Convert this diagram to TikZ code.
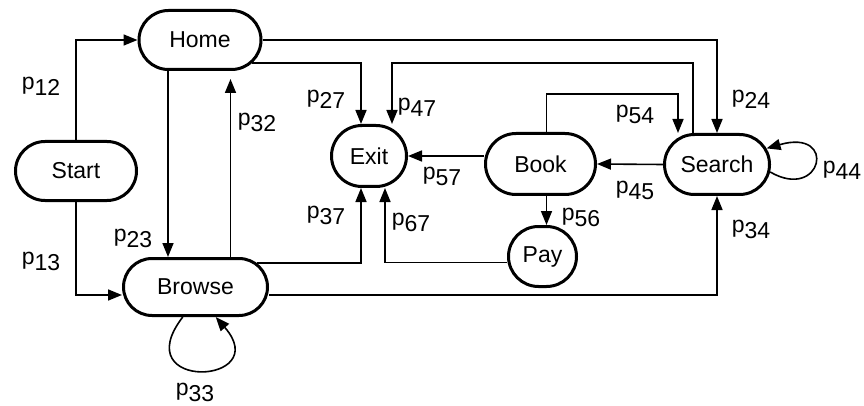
\documentclass[tikz,border=0pt]{standalone}
\usepackage{fontspec}
\setmainfont{Liberation Sans}
\usetikzlibrary{arrows.meta,shapes.misc}
\newcommand{\plab}[1]{p\raisebox{-6pt}{#1}}

\begin{document}
\begin{tikzpicture}[x=1pt,y=-1pt,line width=1.5pt,
  state/.style={draw,rounded rectangle,line width=3pt,inner sep=0pt,font=\fontsize{23}{27}\selectfont},
  plabel/.style={anchor=center,inner sep=0pt,font=\fontsize{23}{27}\selectfont},
  flow/.style={-{Triangle[length=14pt,width=11pt]},line width=1.6pt}]
\path[use as bounding box] (0,0) rectangle (864,406);
% states
\node[state,minimum width=121pt,minimum height=59pt] (start) at (76,171) {Start};
\node[state,minimum width=122pt,minimum height=59pt] (home) at (200,40) {Home};
\node[state,minimum width=144pt,minimum height=57pt] (browse) at (195.5,287) {Browse};
\node[state,minimum width=75pt,minimum height=61pt] (exit) at (369,156) {Exit};
\node[state,minimum width=110pt,minimum height=61pt] (book) at (540.5,164) {Book};
\node[state,minimum width=105pt,minimum height=60pt] (search) at (717,164.5) {Search};
\node[state,minimum width=68pt,minimum height=60pt] (pay) at (542.5,256.5) {Pay};
% transitions
\draw[flow] (start.north) |- (home.west);
\draw[flow] (start.south) |- ([yshift=-8pt]browse.west);
\draw[flow] ([xshift=-32pt]home.south) -- ([xshift=-32pt]home.south |- browse.north);
\draw[flow,shorten >=8pt] ([xshift=35pt]browse.north) -- ([xshift=35pt]browse.north |- home.south);
\draw[flow] (home.-24) -| ([xshift=-8pt]exit.north);
\draw[flow] (home.east) -| (search.north);
\draw[flow] ([xshift=-24pt]search.north) -- ++(0,-70) -| ([xshift=23pt]exit.north);
\draw[flow] ([xshift=6pt]book.north) -- ++(0,-38) -| ([xshift=-39pt]search.north);
\draw[flow] (exit.east -| book.west) -- (exit.east);
\draw[flow] (search.west) -- (book.east);
\draw[flow] ([xshift=6pt]book.south) -- ([xshift=6pt]book.south |- pay.north);
\draw[flow] ([yshift=-6pt]pay.west) -| ([xshift=16pt]exit.south);
\draw[flow] (browse.21) -| ([xshift=-8pt]exit.south);
\draw[flow] ([yshift=-8pt]browse.east) -| (search.south);
\draw[flow] (search.-8) .. controls (822,202) and (838,128) .. (search.18);
\draw[flow] (browse.-113) .. controls (125,392) and (275,385) .. (browse.-56);
% probabilities
\node[plabel] (p12) at (41,86) {\plab{12}};
\node[plabel] (p13) at (41,261) {\plab{13}};
\node[plabel] (p23) at (133,238) {\plab{23}};
\node[plabel] (p32) at (257,122) {\plab{32}};
\node[plabel] (p33) at (195,392) {\plab{33}};
\node[plabel] (p27) at (326,99) {\plab{27}};
\node[plabel] (p47) at (417,107) {\plab{47}};
\node[plabel] (p57) at (442,176) {\plab{57}};
\node[plabel] (p54) at (635,114) {\plab{54}};
\node[plabel] (p24) at (751,99) {\plab{24}};
\node[plabel] (p45) at (635,190) {\plab{45}};
\node[plabel] (p44) at (842,170) {\plab{44}};
\node[plabel] (p37) at (326,215) {\plab{37}};
\node[plabel] (p67) at (411,222) {\plab{67}};
\node[plabel] (p56) at (581,217) {\plab{56}};
\node[plabel] (p34) at (751,229) {\plab{34}};
\end{tikzpicture}
\end{document}
